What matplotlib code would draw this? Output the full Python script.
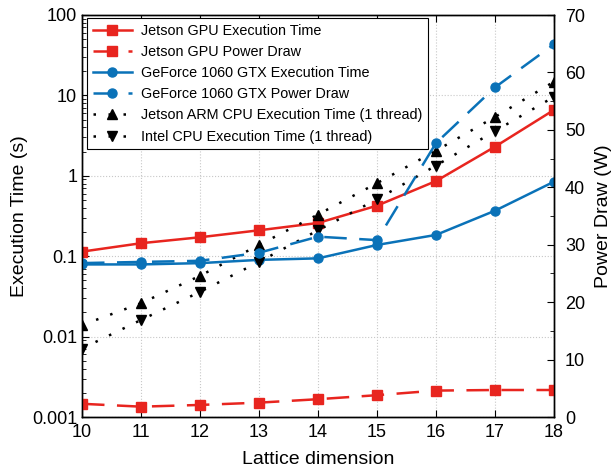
import matplotlib
matplotlib.use("Agg")
import matplotlib.pyplot as plt
from matplotlib.ticker import MultipleLocator, LogLocator, NullFormatter, FixedLocator, FixedFormatter

plt.rcParams['font.family'] = ['Liberation Sans', 'DejaVu Sans']

# Data
lattice = [10, 11, 12, 13, 14, 15, 16, 17, 18]

jetson_gpu_time = [0.114, 0.145, 0.172, 0.21, 0.259, 0.425, 0.86, 2.3, 6.6]
jetson_gpu_power = [2.3, 1.8, 2.1, 2.5, 3.1, 3.8, 4.6, 4.7, 4.7]
gtx_time = [0.079, 0.079, 0.082, 0.09, 0.094, 0.138, 0.184, 0.368, 0.845]
gtx_power = [26.8, 27.0, 27.2, 28.6, 31.4, 30.8, 47.7, 57.4, 64.9]
arm_cpu_time = [0.0139, 0.026, 0.057, 0.138, 0.33, 0.81, 2.05, 5.4, 14.8]
intel_cpu_time = [0.0071, 0.0161, 0.036, 0.085, 0.21, 0.51, 1.34, 3.6, 9.6]

red = '#e8251f'
blue = '#0a72b8'

fig = plt.figure(figsize=(6.13, 4.70), dpi=100)
ax = fig.add_axes([82 / 613, 1 - 417 / 470, (554 - 82) / 613, (417 - 15) / 470])
ax2 = ax.twinx()

h1, = ax.plot(lattice, jetson_gpu_time, '-', color=red, lw=1.8, marker='s', ms=6.5,
              label='Jetson GPU Execution Time')
h2, = ax2.plot(lattice, jetson_gpu_power, color=red, lw=1.8, ls=(0, (9, 5)), marker='s', ms=6.5,
               label='Jetson GPU Power Draw')
h3, = ax.plot(lattice, gtx_time, '-', color=blue, lw=1.8, marker='o', ms=6.5,
              label='GeForce 1060 GTX Execution Time')
h4, = ax2.plot(lattice, gtx_power, color=blue, lw=1.8, ls=(0, (9, 5)), marker='o', ms=6.5,
               label='GeForce 1060 GTX Power Draw')
h5, = ax.plot(lattice, arm_cpu_time, color='black', lw=1.8, ls=(0, (1, 5)), marker='^', ms=7.5,
              label='Jetson ARM CPU Execution Time (1 thread)')
h6, = ax.plot(lattice, intel_cpu_time, color='black', lw=1.8, ls=(0, (1, 5)), marker='v', ms=7.5,
              label='Intel CPU Execution Time (1 thread)')

# left axis (log)
ax.set_yscale('log')
ax.set_ylim(0.001, 100)
ax.set_xlim(10, 18)
ax.yaxis.set_major_locator(FixedLocator([0.001, 0.01, 0.1, 1, 10, 100]))
ax.yaxis.set_major_formatter(FixedFormatter(['0.001', '0.01', '0.1', '1', '10', '100']))
ax.yaxis.set_minor_locator(LogLocator(base=10, subs=(2, 3, 4, 5, 6, 7, 8, 9)))
ax.yaxis.set_minor_formatter(NullFormatter())
ax.xaxis.set_major_locator(MultipleLocator(1))
ax.grid(True, which='major', ls=':', color='#c8c8c8', lw=0.8)
ax.tick_params(axis='both', which='both', direction='in', labelsize=13)
ax.tick_params(axis='x', top=True, length=5, pad=5)
ax.tick_params(axis='y', right=False, which='major', length=5)
ax.tick_params(axis='y', right=False, which='minor', length=3)
ax.set_xlabel('Lattice dimension', fontsize=14, labelpad=7)
ax.set_ylabel('Execution Time (s)', fontsize=14, labelpad=3)

# right axis (linear)
ax2.set_ylim(0, 70)
ax2.yaxis.set_major_locator(MultipleLocator(10))
ax2.yaxis.set_minor_locator(MultipleLocator(5))
ax2.tick_params(axis='y', which='both', direction='in', labelsize=13, pad=8)
ax2.tick_params(axis='y', which='major', length=5)
ax2.tick_params(axis='y', which='minor', length=3)
ax2.set_ylabel('Power Draw (W)', fontsize=14, labelpad=7)

for a in (ax, ax2):
    for s in a.spines.values():
        s.set_linewidth(1.0)
        s.set_color('black')

leg = ax2.legend(handles=[h1, h2, h3, h4, h5, h6], loc='upper left',
                 bbox_to_anchor=(0.011, 0.993), borderaxespad=0, fontsize=10.4,
                 fancybox=False, framealpha=1, edgecolor='black', handlelength=2.7,
                 handletextpad=0.6, labelspacing=0.5, borderpad=0.4)
leg.get_frame().set_linewidth(0.8)

fig.savefig('out.png', dpi=100)
